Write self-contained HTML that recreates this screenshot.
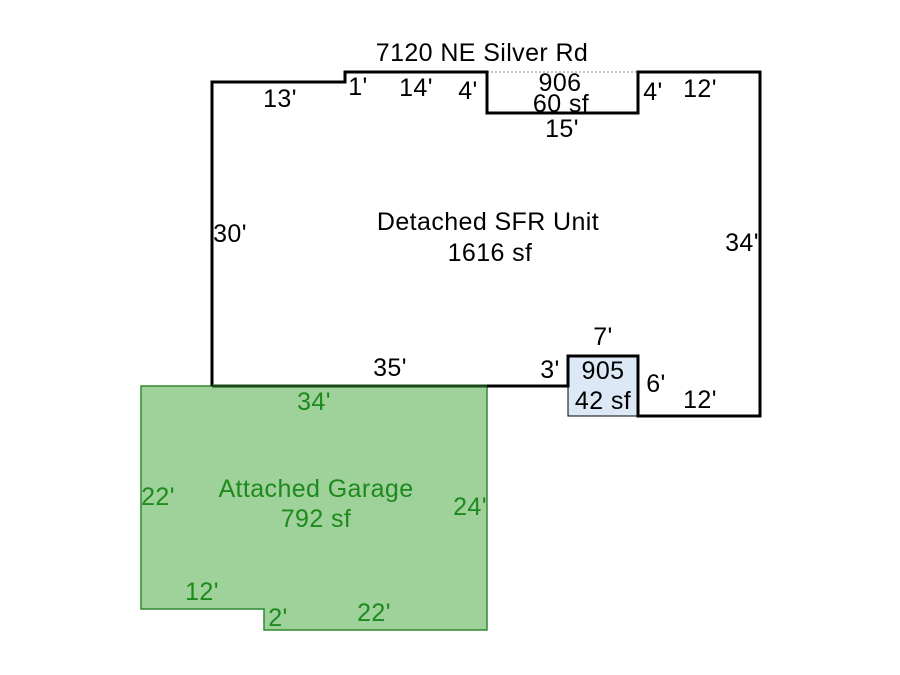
<!DOCTYPE html>
<html><head><meta charset="utf-8"><style>
html,body{margin:0;padding:0;background:#fff;}
svg{display:block;}
text{font-family:"Liberation Sans",Arial,sans-serif;font-size:25px;letter-spacing:0.4px;}
</style></head><body>
<svg width="900" height="675" viewBox="0 0 900 675">
<rect width="900" height="675" fill="#fff"/>
<polygon points="141,386 487,386 487,630 264,630 264,609 141,609" fill="#9fd19a" stroke="#2e8b2e" stroke-width="1.5"/>
<rect x="568" y="356" width="70" height="60" fill="#dce8f5" stroke="#000" stroke-width="1"/>
<line x1="487" y1="72" x2="638" y2="72" stroke="#888" stroke-width="1" stroke-dasharray="2,2"/>
<polyline points="212,386 212,82 345,82 345,72 487,72 487,113 638,113 638,72 760,72 760,416 638,416 638,356 568,356 568,386 212,386" fill="none" stroke="#000" stroke-width="3"/>
<line x1="212" y1="386" x2="487" y2="386" stroke="#1a4a1a" stroke-width="3"/>
<g fill="#000">
<text x="482" y="61" text-anchor="middle">7120 NE Silver Rd</text>
<text x="280" y="107" text-anchor="middle">13'</text>
<text x="358" y="95" text-anchor="middle">1'</text>
<text x="416" y="96" text-anchor="middle">14'</text>
<text x="468" y="99" text-anchor="middle">4'</text>
<text x="560" y="91" text-anchor="middle">906</text>
<text x="561" y="112" text-anchor="middle">60 sf</text>
<text x="562" y="137" text-anchor="middle">15'</text>
<text x="653" y="100" text-anchor="middle">4'</text>
<text x="700" y="97" text-anchor="middle">12'</text>
<text x="488" y="230" text-anchor="middle">Detached SFR Unit</text>
<text x="490" y="261" text-anchor="middle">1616 sf</text>
<text x="230" y="242" text-anchor="middle">30'</text>
<text x="742" y="251" text-anchor="middle">34'</text>
<text x="603" y="345" text-anchor="middle">7'</text>
<text x="390" y="376" text-anchor="middle">35'</text>
<text x="550" y="378" text-anchor="middle">3'</text>
<text x="603" y="379" text-anchor="middle">905</text>
<text x="603" y="409" text-anchor="middle">42 sf</text>
<text x="656" y="392" text-anchor="middle">6'</text>
<text x="700" y="408" text-anchor="middle">12'</text>
</g>
<g fill="#1d8a1d">
<text x="314" y="410" text-anchor="middle">34'</text>
<text x="158" y="505" text-anchor="middle">22'</text>
<text x="316" y="497" text-anchor="middle">Attached Garage</text>
<text x="316" y="527" text-anchor="middle">792 sf</text>
<text x="470" y="515" text-anchor="middle">24'</text>
<text x="202" y="600" text-anchor="middle">12'</text>
<text x="278" y="626" text-anchor="middle">2'</text>
<text x="374" y="621" text-anchor="middle">22'</text>
</g>
</svg>
</body></html>
